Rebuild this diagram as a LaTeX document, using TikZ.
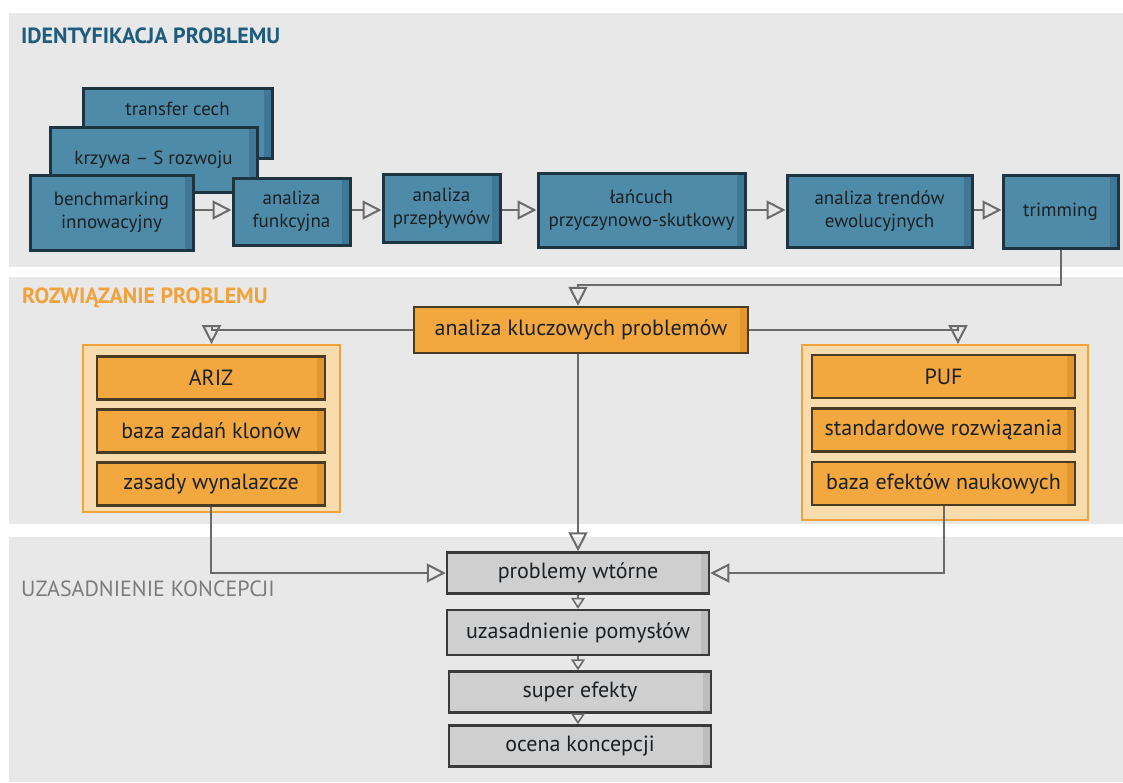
\documentclass[tikz,border=0pt]{standalone}
\usepackage{fontspec}
\setmainfont{PT Sans}
\usepackage{xcolor}
\usetikzlibrary{positioning,calc,arrows.meta}

\definecolor{bandgray}{HTML}{E8E8E8}
\definecolor{boxblue}{HTML}{4E8BA8}
\definecolor{tintblue}{HTML}{3F7896}
\definecolor{lineblue}{HTML}{1F3441}
\definecolor{titleblue}{HTML}{1D5C7E}
\definecolor{boxorange}{HTML}{F2A83E}
\definecolor{tintorange}{HTML}{E3962E}
\definecolor{lineorange}{HTML}{4A3B24}
\definecolor{grouporange}{HTML}{F9DCAD}
\definecolor{titleorange}{HTML}{F2A23A}
\definecolor{boxgray}{HTML}{CFCFCF}
\definecolor{tintgray}{HTML}{BDBDBD}
\definecolor{linegray}{HTML}{3A3A3A}
\definecolor{titlegray}{HTML}{7B7B7B}
\definecolor{arrowgray}{HTML}{6B6B6B}
\definecolor{textdark}{HTML}{1A2024}

\begin{document}
\begin{tikzpicture}[
	x=1pt, y=-1pt,
	band/.style={fill=bandgray},
	heading/.style={
		font=\fontsize{22}{26}\selectfont\bfseries,
		anchor=west, inner sep=0pt
	},
	edgetint/.style={
		path picture={\fill[#1] ([xshift=-8pt]path picture bounding box.north east) rectangle (path picture bounding box.south east);}
	},
	bluebox/.style={
		draw=lineblue, fill=boxblue, line width=3pt, edgetint=tintblue,
		text=textdark, align=center, inner sep=0pt,
		font=\fontsize{19}{22.5}\selectfont
	},
	orangebox/.style={
		draw=lineorange, fill=boxorange, line width=2.5pt, edgetint=tintorange,
		text=textdark, inner sep=0pt, minimum height=43pt,
		font=\fontsize{22}{24}\selectfont
	},
	grupa/.style={
		draw=titleorange, fill=grouporange, line width=1.8pt
	},
	graybox/.style={
		draw=linegray, fill=boxgray, line width=2.5pt, edgetint=tintgray,
		text=textdark, inner sep=0pt, minimum width=262pt, minimum height=41pt,
		font=\fontsize{22}{24}\selectfont
	},
	flow/.style={
		draw=arrowgray, line width=2pt,
		-{Triangle[open, length=19pt, width=19pt]}
	},
	flowsmall/.style={
		draw=arrowgray, line width=1.6pt,
		-{Triangle[open, length=11pt, width=14pt]}
	}
	]
	\useasboundingbox (0,0) rectangle (1123,782);
	\fill[white] (0,0) rectangle (1123,782);
	
	% === PASMA TŁA ===
	\fill[band] (9,13) rectangle (1123,267);
	\fill[band] (9,277) rectangle (1123,524);
	\fill[band] (9,537) rectangle (1123,782);
	
	\node[heading, text=titleblue] (tid) at (21,36) {IDENTYFIKACJA PROBLEMU};
	\node[heading, text=titleorange] (troz) at (22,298) {ROZWIĄZANIE PROBLEMU};
	\node[heading, font=\fontsize{22}{26}\selectfont, text=titlegray] (tuz) at (21,589) {UZASADNIENIE KONCEPCJI};
	
	% === IDENTYFIKACJA ===
	\node[bluebox, minimum width=189pt, text height=27pt, text depth=43pt] (transfer) at (177.5,123) {transfer cech};
	\node[bluebox, minimum width=207pt, minimum height=65pt] (krzywa) at (153.5,159.5) {krzywa – S rozwoju};
	\node[bluebox, minimum width=163pt, minimum height=75pt] (bench) at (111.5,212.5) {benchmarking\\innowacyjny};
	\node[bluebox, minimum width=117pt, minimum height=67pt] (funk) at (291.5,211.5) {analiza\\funkcyjna};
	\node[bluebox, minimum width=117pt, minimum height=68pt] (przep) at (441.5,208) {analiza\\przepływów};
	\node[bluebox, minimum width=207pt, minimum height=74pt] (lancuch) at (641.5,210) {łańcuch\\przyczynowo-skutkowy};
	\node[bluebox, minimum width=185pt, minimum height=72pt] (trendy) at (879.5,211) {analiza trendów\\ewolucyjnych};
	\node[bluebox, minimum width=115pt, minimum height=73pt] (trim) at (1060.5,211.5) {trimming};
	
	\coordinate (rowy) at (0,210);
	\foreach \a/\b in {bench/funk, funk/przep, przep/lancuch, lancuch/trendy, trendy/trim} {
		\draw[flow] (\a.east |- rowy) -- (\b.west |- rowy);
	}
	
	% === ROZWIĄZANIE ===
	\node[orangebox, minimum width=334pt, minimum height=46pt] (kluczowe) at (581,330) {analiza kluczowych problemów};
	
	\node[grupa, minimum width=257pt, minimum height=167pt] (arizgrp) at (211.5,428.5) {};
	\node[orangebox, minimum width=228pt] (ariz) at (211,378) {ARIZ};
	\node[orangebox, minimum width=228pt] (klony) at (211,431) {baza zadań klonów};
	\node[orangebox, minimum width=228pt] (zasady) at (211,484) {zasady wynalazcze};
	
	\node[grupa, minimum width=286pt, minimum height=175pt] (pufgrp) at (945,432.5) {};
	\node[orangebox, minimum width=263pt] (puf) at (943.5,376.5) {PUF};
	\node[orangebox, minimum width=263pt] (standard) at (943.5,430) {standardowe rozwiązania};
	\node[orangebox, minimum width=263pt] (bazaef) at (943.5,483.5) {baza efektów naukowych};
	
	% === UZASADNIENIE ===
	\node[graybox] (wtorne) at (578,573) {problemy wtórne};
	\node[graybox, minimum height=45pt] (pomysly) at (578,632.5) {uzasadnienie pomysłów};
	\node[graybox] (efekty) at (580,692) {super efekty};
	\node[graybox] (ocena) at (580,746) {ocena koncepcji};
	
	% połączenia
	\coordinate (zbieg) at (578,285);
	\draw[flow] (trim.south) |- (zbieg) -- (zbieg |- kluczowe.north);
	\draw[flow] (kluczowe.west) -| (arizgrp.north);
	\draw[flow] (kluczowe.east) -| ([xshift=13pt]pufgrp.north);
	\draw[flow] (zbieg |- kluczowe.south) -- (zbieg |- wtorne.north);
	\draw[flow] (zasady.south) |- (wtorne.west);
	\draw[flow] (bazaef.south) |- (wtorne.east);
	\foreach \a/\b in {wtorne/pomysly, pomysly/efekty, efekty/ocena} {
		\draw[flowsmall] (\a.south -| zbieg) -- (\b.north -| zbieg);
	}
	
\end{tikzpicture}
\end{document}
